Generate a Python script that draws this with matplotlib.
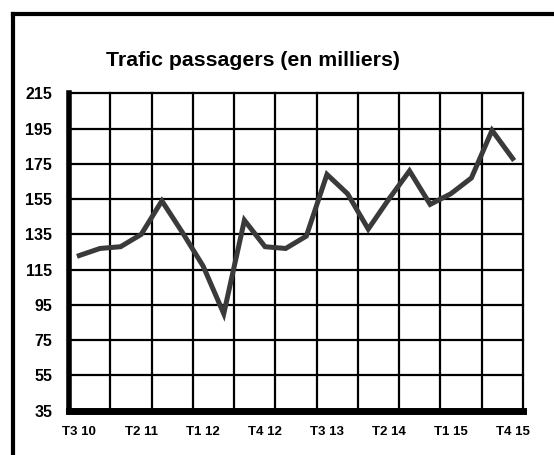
import matplotlib
matplotlib.use("Agg")
import matplotlib.pyplot as plt
from matplotlib.lines import Line2D

quarters = ["T3 10", "T4 10",
            "T1 11", "T2 11", "T3 11", "T4 11",
            "T1 12", "T2 12", "T3 12", "T4 12",
            "T1 13", "T2 13", "T3 13", "T4 13",
            "T1 14", "T2 14", "T3 14", "T4 14",
            "T1 15", "T2 15", "T3 15", "T4 15"]
passagers = [123, 127, 128, 135, 154, 136, 117, 90, 143, 128, 127, 134,
             169, 158, 138, 155, 171, 152, 158, 167, 194, 178]
y_ticks = [35, 55, 75, 95, 115, 135, 155, 175, 195, 215]
title = "Trafic passagers (en milliers)"

plt.rcParams['font.family'] = ['Liberation Sans', 'DejaVu Sans']

W, H = 554, 455
fig = plt.figure(figsize=(W / 100, H / 100), dpi=100)
fig.patch.set_facecolor("white")

# outer frame (clipped at right and bottom)
fig.add_artist(Line2D([13 / W, 13 / W], [0, 1 - 14 / H], transform=fig.transFigure,
                      color="black", lw=3.0, solid_capstyle="projecting"))
fig.add_artist(Line2D([13 / W, 1], [1 - 14 / H, 1 - 14 / H], transform=fig.transFigure,
                      color="black", lw=3.0, solid_capstyle="projecting"))

ax = fig.add_axes([69 / W, 1 - 410.7 / H, (523 - 69) / W, (410.7 - 93.3) / H])
x = list(range(len(quarters)))
ax.set_xlim(-0.5, len(quarters) - 0.5)
ax.set_ylim(y_ticks[0], y_ticks[-1])

# gridlines
for yv in y_ticks[1:]:
    ax.axhline(yv, color="black", lw=1.6, zorder=1, clip_on=False)
for k in range(1, len(quarters) // 2 + 1):
    ax.axvline(-0.5 + 2 * k, color="black", lw=1.6, zorder=1, clip_on=False)

ax.plot(x, passagers, color="#3a3a3a", lw=3.6, solid_joinstyle="miter", zorder=3)

for s in ["top", "right"]:
    ax.spines[s].set_visible(False)
ax.spines["left"].set_linewidth(4.0)
ax.spines["bottom"].set_linewidth(5.0)
ax.spines["left"].set_zorder(4)
ax.spines["bottom"].set_zorder(4)

ax.set_yticks(y_ticks)
ax.set_yticklabels([str(v) for v in y_ticks], fontsize=11.5, fontweight="bold")
ax.set_xticks(x[::3])
ax.set_xticklabels(quarters[::3], fontsize=9.5, fontweight="bold")
ax.tick_params(axis="y", length=0, pad=12)
ax.tick_params(axis="x", length=0, pad=11)

fig.text(253 / W, 1 - 60 / H, title, ha="center", va="center",
         fontsize=15.3, fontweight="bold")

fig.savefig("out.png", dpi=100)
